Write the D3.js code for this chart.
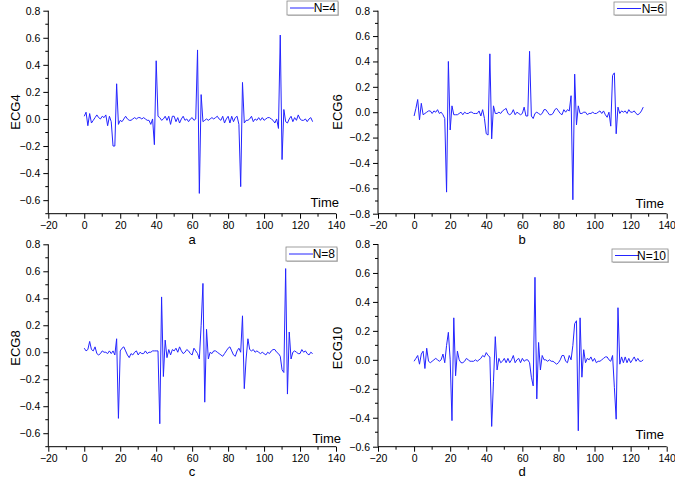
<!DOCTYPE html>
<html><head><meta charset="utf-8">
<script src="https://cdn.jsdelivr.net/npm/d3@7"></script>
<style>body{margin:0;background:#fff}svg{display:block}text{font-family:Arial,"Liberation Sans",sans-serif;fill:#000}</style>
</head><body><svg id="c" width="675" height="479"></svg>
<script>
const ecg4 = [0.02,0.05,-0.05,0.04,-0.03,-0.01,0.01,0.03,0.01,0.0,0.02,0.01,0.03,-0.05,0.02,-0.02,-0.2,-0.2,0.26,-0.04,
-0.01,-0.02,0.0,0.02,0.0,-0.01,-0.01,0.0,0.01,0.0,0.01,0.01,0.0,0.01,0.0,-0.01,-0.01,-0.04,0.0,-0.19,
0.43,0.02,0.01,-0.01,0.0,0.02,-0.01,0.02,-0.04,0.02,0.02,-0.02,0.01,-0.03,0.0,0.02,-0.01,0.0,-0.02,0.0,
0.01,-0.01,0.0,0.51,-0.55,0.18,-0.02,-0.01,0.0,-0.01,0.0,0.01,0.0,0.01,0.02,0.0,-0.01,0.02,-0.03,0.0,
0.02,-0.03,0.02,-0.02,0.01,0.02,-0.04,-0.5,0.27,-0.03,-0.01,-0.01,0.0,0.02,-0.02,0.0,-0.01,0.01,-0.01,0.01,
-0.01,0.0,0.01,0.01,0.0,-0.01,-0.03,0.0,-0.07,0.62,-0.3,0.07,-0.02,-0.03,0.0,0.02,-0.02,0.01,-0.01,0.03,
0.0,-0.01,-0.01,0.0,-0.02,0.0,0.01,-0.02];
const ecg6 = [-0.03,0.03,0.1,-0.06,0.07,-0.02,-0.01,0.0,0.01,0.01,-0.01,0.01,0.0,0.02,-0.01,0.0,-0.02,-0.05,-0.63,0.4,
-0.14,0.05,-0.02,-0.02,-0.02,-0.01,0.0,-0.02,0.0,-0.01,-0.01,0.0,0.0,-0.01,-0.01,-0.01,0.01,-0.03,0.02,-0.05,
-0.17,-0.18,0.46,-0.21,0.05,-0.01,-0.01,0.0,-0.01,0.01,0.02,0.03,-0.01,-0.02,-0.01,0.02,-0.02,0.0,-0.01,-0.02,
-0.01,0.04,-0.03,-0.03,0.48,-0.03,-0.05,-0.01,0.0,-0.01,-0.02,-0.01,0.02,0.02,0.0,-0.02,-0.02,-0.01,0.02,0.03,
0.01,-0.01,-0.02,0.02,0.0,0.02,0.01,0.13,-0.69,0.3,-0.1,0.05,-0.01,-0.01,0.0,0.0,-0.02,-0.01,-0.01,0.0,
-0.01,-0.01,0.0,0.01,-0.01,0.01,-0.02,-0.04,0.0,-0.11,0.29,0.31,-0.17,0.04,-0.01,0.01,0.0,0.01,-0.01,0.02,
0.0,0.0,0.01,-0.01,-0.02,-0.01,0.01,0.04];
const ecg8 = [0.03,0.01,0.02,0.08,0.02,0.01,0.04,-0.01,-0.02,-0.01,0.01,0.0,0.0,-0.01,0.01,-0.01,0.01,-0.02,0.1,-0.49,
0.01,0.03,0.04,0.01,-0.02,-0.04,-0.01,-0.02,0.0,0.01,-0.02,0.0,-0.01,-0.01,0.01,-0.01,0.0,0.0,0.01,0.01,
0.01,0.01,-0.53,0.41,-0.18,0.09,-0.04,0.02,-0.02,0.02,0.01,0.03,0.0,0.04,0.01,-0.01,0.0,0.02,0.01,-0.01,
-0.02,0.03,0.01,-0.01,-0.05,0.2,0.51,-0.37,0.17,-0.05,0.0,-0.01,0.01,0.01,0.0,-0.01,-0.02,-0.03,-0.01,0.01,
0.03,0.04,0.01,-0.02,-0.03,0.01,0.03,0.0,0.27,-0.27,-0.05,0.1,0.02,0.01,0.02,0.0,0.01,0.0,-0.01,0.0,
-0.01,-0.02,0.0,-0.01,0.01,0.02,0.02,0.0,-0.01,-0.03,-0.13,-0.15,0.62,-0.31,0.15,-0.05,0.0,0.01,0.0,-0.01,
-0.01,0.02,0.0,0.01,-0.01,-0.02,0.0,-0.01];
const ecg10 = [-0.01,0.01,0.03,-0.03,0.04,0.06,-0.06,0.08,-0.01,-0.02,-0.01,0.0,0.01,0.0,-0.01,0.0,0.04,-0.02,0.1,0.19,
0.0,-0.42,0.29,-0.11,0.06,0.0,-0.02,-0.02,-0.01,0.01,0.0,-0.01,-0.01,-0.01,0.0,-0.01,0.0,0.01,0.03,0.02,
0.05,0.03,0.02,-0.46,-0.15,0.16,-0.07,0.01,-0.02,-0.01,0.01,-0.02,0.01,-0.02,0.0,0.03,-0.02,0.0,0.01,-0.02,
0.01,-0.01,0.0,0.0,-0.02,-0.12,-0.18,0.57,-0.27,0.12,-0.07,0.03,0.0,0.0,-0.01,0.0,-0.01,-0.01,-0.02,-0.03,
-0.02,0.0,0.03,0.03,-0.01,-0.02,0.03,0.0,0.1,0.25,0.27,-0.49,0.29,-0.12,0.07,-0.02,0.01,0.0,0.02,-0.01,
0.01,-0.02,-0.01,-0.01,0.0,0.01,0.02,0.02,0.0,-0.01,0.03,-0.19,-0.41,0.36,-0.03,0.02,-0.02,0.02,-0.02,0.01,
-0.02,0.0,0.02,-0.01,0.01,-0.01,-0.01,0.0];
const xTicks = [-20,0,20,40,60,80,100,120,140];
const yTicksA = [-0.6,-0.4,-0.2,0.0,0.2,0.4,0.6,0.8];
const yTicksB = [-0.8,-0.6,-0.4,-0.2,0.0,0.2,0.4,0.6,0.8];
const yTicksD = [-0.6,-0.4,-0.2,0.0,0.2,0.4,0.6,0.8];
const seriesNames = ["N=4","N=6","N=8","N=10"];
const yLabels = ["ECG4","ECG6","ECG8","ECG10"];
const captions = ["a","b","c","d"];

const panels = [
 {data:ecg4, yd:[-0.7,0.8], yt:yTicksA, x0:48.3, x1:336, y0:213.7, y1:10.7, ylab:[15,112], time:[339,207], leg:[287,1,51,14], cap:[192,244]},
 {data:ecg6, yd:[-0.8,0.8], yt:yTicksB, x0:378, x1:666.7, y0:213.7, y1:10.7, ylab:[337,112], time:[664,208], leg:[614,2,52,13], cap:[522,244]},
 {data:ecg8, yd:[-0.7,0.8], yt:yTicksA, x0:48.3, x1:336, y0:446.7, y1:244.3, ylab:[15,348], time:[341,443], leg:[286,247,51,14], cap:[192,476]},
 {data:ecg10, yd:[-0.6,0.8], yt:yTicksD, x0:378, x1:666.7, y0:446.7, y1:244, ylab:[337,348], time:[664,439], leg:[612,249,56,13], cap:[522,476]}
];
const svg = d3.select("#c");
panels.forEach((p,i)=>{
  const g = svg.append("g");
  const x = d3.scaleLinear().domain([-20,140]).range([p.x0,p.x1]);
  const y = d3.scaleLinear().domain(p.yd).range([p.y0,p.y1]);
  const xMinor = d3.range(-20,141,10).filter(v=>v%20!==0);
  const yMinor = d3.range(Math.round(p.yd[0]*10), Math.round(p.yd[1]*10)+1).map(v=>v/10).filter(v=>Math.round(v*10)%2!==0);
  const xa = g.append("g").attr("transform",`translate(0,${p.y0})`)
    .call(d3.axisBottom(x).tickValues(xTicks).tickSize(5).tickPadding(3).tickFormat(d3.format("d")));
  xa.append("g").selectAll("line").data(xMinor).join("line")
    .attr("x1",d=>x(d)).attr("x2",d=>x(d)).attr("y1",0).attr("y2",3).attr("stroke","#000");
  const ya = g.append("g").attr("transform",`translate(${p.x0},0)`)
    .call(d3.axisLeft(y).tickValues(p.yt).tickSize(5).tickPadding(3).tickFormat(d3.format(".1f")));
  ya.append("g").selectAll("line").data(yMinor).join("line")
    .attr("y1",d=>y(d)).attr("y2",d=>y(d)).attr("x1",0).attr("x2",-3).attr("stroke","#000");
  [xa,ya].forEach(a=>{
    a.select(".domain").attr("d", a===xa ? `M${p.x0},0H${p.x1}` : `M0,${p.y0}V${p.y1}`).attr("stroke","#000");
    a.selectAll("text").attr("font-size",10.5).attr("font-family","Arial, 'Liberation Sans', sans-serif").attr("fill","#000");
  });
  const line = d3.line().x((d,k)=>x(k)).y(d=>y(d));
  g.append("path").datum(p.data).attr("d",line).attr("fill","none").attr("stroke","#2424ff").attr("stroke-width",1);
  g.append("text").attr("transform",`translate(${p.ylab[0]},${p.ylab[1]}) rotate(-90)`).attr("text-anchor","middle")
    .attr("dominant-baseline","central").attr("font-size",13).text(yLabels[i]);
  g.append("text").attr("x",p.time[0]).attr("y",p.time[1]).attr("text-anchor","end").attr("font-size",13).text("Time");
  g.append("text").attr("x",p.cap[0]).attr("y",p.cap[1]).attr("text-anchor","middle").attr("font-size",13).text(captions[i]);
  const [lx,ly,lw,lh] = p.leg;
  g.append("rect").attr("x",lx+1).attr("y",ly+1).attr("width",lw).attr("height",lh).attr("fill","#ccc");
  g.append("rect").attr("x",lx).attr("y",ly).attr("width",lw).attr("height",lh).attr("fill","#fff").attr("stroke","#888").attr("stroke-width",0.8);
  g.append("line").attr("x1",lx+3).attr("x2",lx+27).attr("y1",ly+lh/2).attr("y2",ly+lh/2).attr("stroke","#2424ff").attr("stroke-width",1);
  g.append("text").attr("x",lx+lw-2).attr("y",ly+lh/2).attr("dominant-baseline","central").attr("text-anchor","end").attr("font-size",12).text(seriesNames[i]);
});
</script></body></html>
